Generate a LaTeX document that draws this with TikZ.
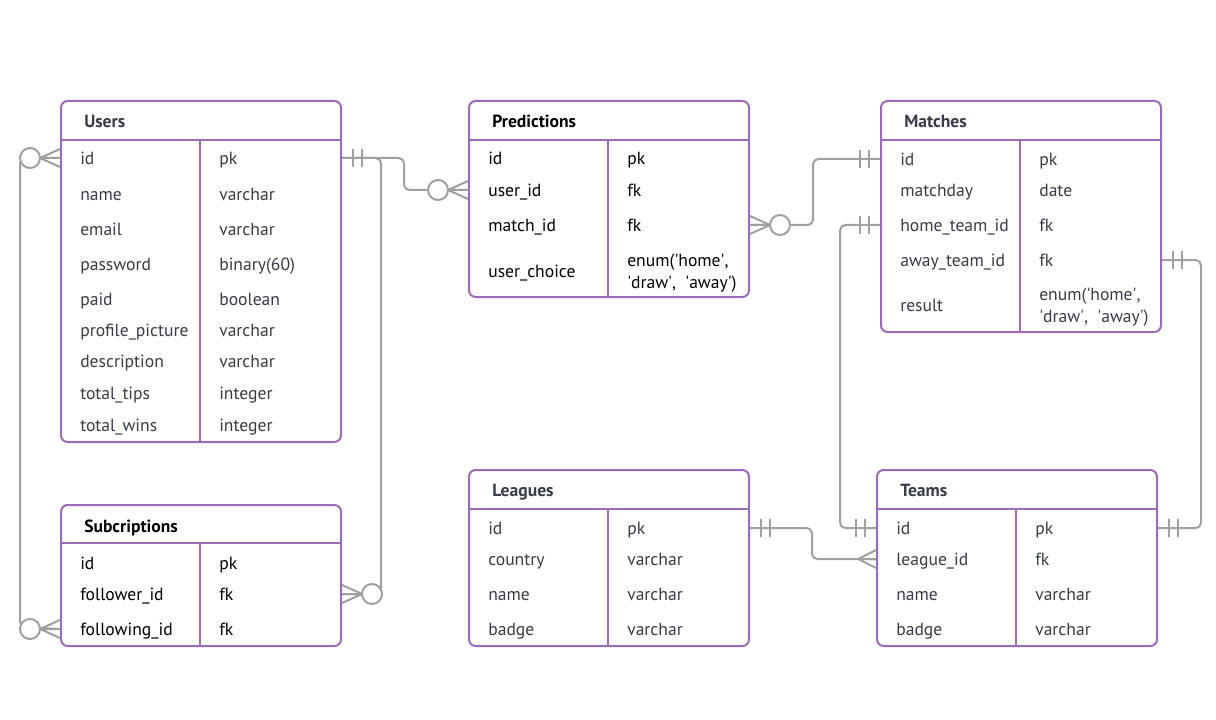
\documentclass[tikz,border=0pt]{standalone}
\usepackage{fontspec}
\setmainfont{PT Sans}
\usetikzlibrary{calc,positioning}
\definecolor{frame}{RGB}{155,107,181}
\definecolor{wire}{RGB}{160,160,160}
\definecolor{ink}{RGB}{55,60,70}
\newcommand{\q}{\textquotesingle}
\tikzset{
  table/.style={draw=frame, line width=1.5pt, rounded corners=5pt, fill=white,
    anchor=north west, inner sep=0pt, minimum width=210pt},
  sep/.style={draw=frame, line width=1.5pt},
  field/.style={anchor=west, inner sep=0pt, text=ink, text height=13pt, text depth=3.1pt,
    font=\fontsize{13.2}{15}\selectfont},
  title/.style={field, font=\bfseries\fontsize{13.2}{15}\selectfont},
  enum/.style={field, align=left, text height=, text depth=, yshift=-1.5pt,
    font=\fontsize{13.2}{16.5}\selectfont},
  link/.style={draw=wire, line width=1.5pt, rounded corners=4pt},
  pics/bars/.style={code={\draw[link] (11,-9) -- (11,9) (20,-9) -- (20,9);}},
  pics/crow/.style={code={\draw[link] (0,-9) -- (18,0) (0,9) -- (18,0) (0,0) -- (18,0);}},
  pics/crowring/.style={code={
    \draw[link] (0,-9) -- (20,0) (0,9) -- (20,0) (0,0) -- (20,0);
    \draw[link, fill=white] (30,0) circle (7.5pt);}},
}
\begin{document}
\begin{tikzpicture}[x=0.75pt, y=-0.75pt]
  \useasboundingbox (0,0) rectangle (1216,720);

  % tables
  \node[table, minimum height=255.75pt] (users) at (60,100) {};
  \draw[sep] (60,140) -- (340,140) (200,140) -- (200,441);
  \node[title] (users-h) at (84,121) {Users};
  \foreach \n/\f/\t/\y in {id/id/pk/158, name/name/varchar/194, email/email/varchar/229,
      pw/password/binary(60)/264, paid/paid/boolean/299,
      pic/profile\_picture/varchar/330, desc/description/varchar/361,
      tips/total\_tips/integer/393, wins/total\_wins/integer/425}
    \node[field] (u-\n) at (80,\y) {\f} node[field] (u-\n-t) at (219,\y) {\t};

  \node[table, minimum height=105.75pt] (subs) at (60,504) {};
  \draw[sep] (60,543) -- (340,543) (200,543) -- (200,645);
  \node[title, text=black] (subs-h) at (84,526) {Subcriptions};
  \foreach \n/\f/\t/\y in {id/id/pk/563, fol/follower\_id/fk/594, fing/following\_id/fk/629}
    \node[field, text=black] (s-\n) at (80,\y) {\f} node[field, text=black] (s-\n-t) at (219,\y) {\t};

  \node[table, minimum height=147pt] (pred) at (468,100) {};
  \draw[sep] (468,140) -- (748,140) (608,140) -- (608,296);
  \node[title, text=black] (pred-h) at (492,121) {Predictions};
  \foreach \n/\f/\t/\y in {id/id/pk/158, uid/user\_id/fk/190, mid/match\_id/fk/225}
    \node[field, text=black] (p-\n) at (488,\y) {\f} node[field, text=black] (p-\n-t) at (627,\y) {\t};
  \node[field, text=black] (p-ch) at (488,271) {user\_choice};
  \node[enum, text=black] (p-ch-t) at (627,271) {enum(\q home\q,\\\q draw\q,\ \ \q away\q)};

  \node[table, minimum height=173.25pt] (match) at (880,100) {};
  \draw[sep] (880,140) -- (1160,140) (1020,140) -- (1020,331);
  \node[title] (match-h) at (904,121) {Matches};
  \foreach \n/\f/\t/\y in {id/id/pk/159, day/matchday/date/190, home/home\_team\_id/fk/225,
      away/away\_team\_id/fk/260}
    \node[field] (m-\n) at (900,\y) {\f} node[field] (m-\n-t) at (1039,\y) {\t};
  \node[field] (m-res) at (900,305) {result};
  \node[enum] (m-res-t) at (1039,305) {enum(\q home\q,\\\q draw\q,\ \ \q away\q)};

  \node[table, minimum height=132pt] (leag) at (468,469) {};
  \draw[sep] (468,509) -- (748,509) (608,509) -- (608,645);
  \node[title] (leag-h) at (492,490) {Leagues};
  \foreach \n/\f/\t/\y in {id/id/pk/528, ctry/country/varchar/559, name/name/varchar/594,
      badge/badge/varchar/629}
    \node[field] (l-\n) at (488,\y) {\f} node[field] (l-\n-t) at (627,\y) {\t};

  \node[table, minimum height=132pt] (teams) at (876,469) {};
  \draw[sep] (876,509) -- (1156,509) (1016,509) -- (1016,645);
  \node[title] (teams-h) at (900,490) {Teams};
  \foreach \n/\f/\t/\y in {id/id/pk/528, lid/league\_id/fk/559, name/name/varchar/594,
      badge/badge/varchar/629}
    \node[field] (t-\n) at (896,\y) {\f} node[field] (t-\n-t) at (1035,\y) {\t};

  % relations
  \draw[link] (users.east |- u-id) -- (404,158) -- (404,190) -- (pred.west |- p-uid);
  \draw[link] (users.east |- u-id) -- (381,158) -- (381,594) -- (subs.east |- s-fol);
  \draw[link] (users.west |- u-id) -- (20,158) -- (20,627) -- (subs.west |- s-fing);
  \draw[link] (pred.east |- p-mid) -- (813,225) -- (813,159) -- (match.west |- m-id);
  \draw[link] (match.west |- m-home) -- (840,225) -- (840,528) -- (teams.west |- t-id);
  \draw[link] (match.east |- m-away) -- (1201,260) -- (1201,528) -- (teams.east |- t-id);
  \draw[link] (leag.east |- l-id) -- (812,528) -- (812,559) -- (teams.west |- t-lid);

  \pic at (users.east |- u-id) {bars};
  \pic[rotate=180] at (pred.west |- p-uid) {crowring};
  \pic at (subs.east |- s-fol) {crowring};
  \pic[rotate=180] at (users.west |- u-id) {crowring};
  \pic[rotate=180] at (subs.west |- s-fing) {crowring};
  \pic at (pred.east |- p-mid) {crowring};
  \pic[rotate=180] at (match.west |- m-id) {bars};
  \pic[rotate=180] at (match.west |- m-home) {bars};
  \pic[rotate=180] at (teams.west |- t-id) {bars};
  \pic at (match.east |- m-away) {bars};
  \pic at (teams.east |- t-id) {bars};
  \pic at (leag.east |- l-id) {bars};
  \pic[rotate=180] at (teams.west |- t-lid) {crow};
\end{tikzpicture}
\end{document}
